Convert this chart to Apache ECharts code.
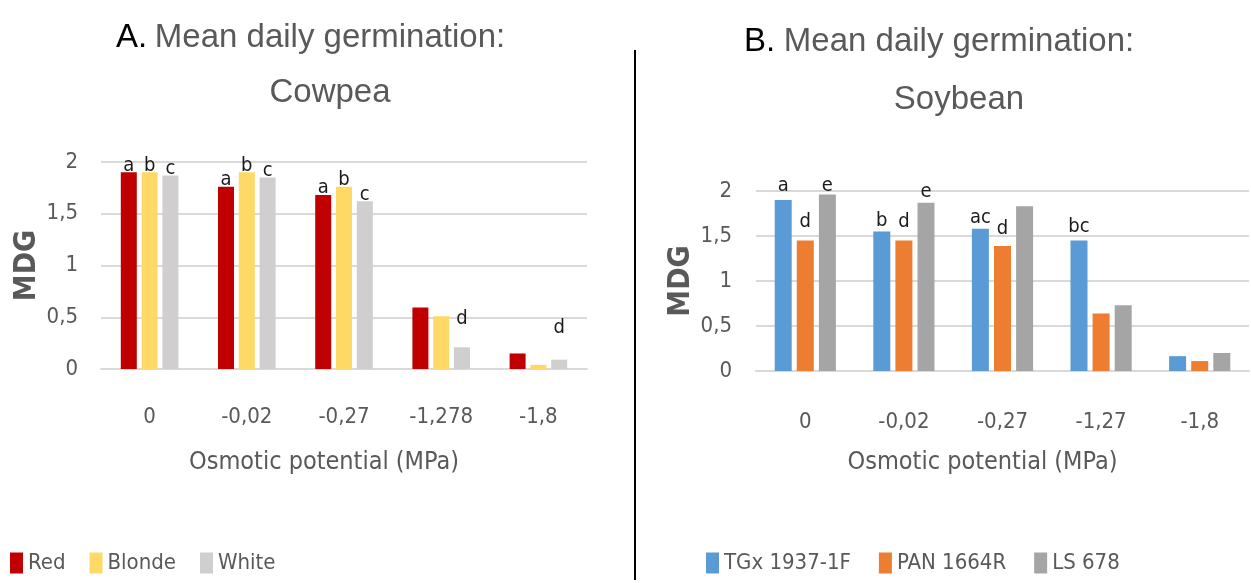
<!DOCTYPE html>
<html>
<head>
<meta charset="utf-8">
<script src="https://cdn.jsdelivr.net/npm/echarts@6/dist/echarts.min.js"></script>
<style>
  html, body { margin: 0; padding: 0; background: #fff; }
  #chart { width: 1251px; height: 583px; }
</style>
</head>
<body>
<div id="chart"></div>
<script>
// ---------- data ----------
const categoriesA = ['0', '-0,02', '-0,27', '-1,278', '-1,8'];
const categoriesB = ['0', '-0,02', '-0,27', '-1,27', '-1,8'];

const seriesNamesA = ['Red', 'Blonde', 'White'];
const redValues    = [1.90, 1.76, 1.68, 0.595, 0.15];
const blondeValues = [1.90, 1.90, 1.76, 0.51, 0.04];
const whiteValues  = [1.87, 1.85, 1.62, 0.21, 0.09];
const redLetters    = ['a', 'a', 'a', '', ''];
const blondeLetters = ['b', 'b', 'b', '', ''];
const whiteLetters  = ['c', 'c', 'c', 'd', 'd'];

const seriesNamesB = ['TGx 1937-1F', 'PAN 1664R', 'LS 678'];
const tgxValues = [1.90, 1.55, 1.58, 1.45, 0.165];
const panValues = [1.45, 1.45, 1.39, 0.64, 0.11];
const lsValues  = [1.96, 1.87, 1.83, 0.73, 0.20];
const tgxLetters = ['a', 'b', 'ac', 'bc', ''];
const panLetters = ['d', 'd', 'd', '', ''];
const lsLetters  = ['e', 'e', '', '', ''];

const yTicks = { min: 0, max: 2, step: 0.5 };

// ---------- styles ----------
const FONT = "'DejaVu Sans Condensed','Liberation Sans Narrow',sans-serif";
const TITLE_FONT = "'Liberation Sans Narrow','Liberation Sans',Arial,sans-serif";
const GRAY = '#595959';
const GRID_COLOR = '#d9d9d9';
const colorsA = ['#C00000', '#FFD966', '#D0CECE'];
const colorsB = ['#5B9BD5', '#ED7D31', '#A5A5A5'];
// extra lift (px) of the letter annotations above their bars
const liftA = [[0,0,0,0,0], [0,0,0,0,0], [0,0,0,21,25]];
const liftB = [[3,0,0,3,0], [8,8,6,0,0], [-2,0,0,0,0]];

function barSeries(name, values, letters, lifts, color, idx, dist, width) {
  return {
    name: name, type: 'bar', xAxisIndex: idx, yAxisIndex: idx,
    barWidth: width, barGap: '30%',
    itemStyle: { color: color },
    data: values.map((v, i) => ({ value: v, label: { offset: [0, -lifts[i]] } })),
    label: {
      show: true, position: 'top', distance: dist,
      formatter: p => letters[p.dataIndex],
      fontFamily: FONT, fontSize: 20, color: '#1a1a1a'
    },
    emphasis: { disabled: true }
  };
}

function xAxis(idx, cats, margin, nameGap) {
  return {
    type: 'category', gridIndex: idx, data: cats,
    axisLine: { lineStyle: { color: GRID_COLOR, width: 2 } },
    axisTick: { show: false },
    axisLabel: { interval: 0, margin: margin, fontFamily: FONT, fontSize: 22, color: GRAY },
    name: 'Osmotic potential (MPa)', nameLocation: 'middle', nameGap: nameGap,
    nameTextStyle: { fontFamily: FONT, fontSize: 25, color: GRAY, padding: [0, 40, 0, 0] }
  };
}
function yAxis(idx, margin) {
  return {
    type: 'value', gridIndex: idx, min: yTicks.min, max: yTicks.max, interval: yTicks.step,
    axisLine: { show: false }, axisTick: { show: false },
    splitLine: { lineStyle: { color: GRID_COLOR, width: 2 } },
    axisLabel: { margin: margin, fontFamily: FONT, fontSize: 22, color: GRAY,
      formatter: v => String(v).replace('.', ',') },
    name: 'MDG', nameLocation: 'middle', nameGap: 59, nameRotate: 90,
    nameTextStyle: { fontFamily: FONT, fontSize: 30, fontWeight: 'bold', color: GRAY }
  };
}
function legend(names, left, gap) {
  return {
    data: names, left: left, top: 547, orient: 'horizontal',
    icon: 'rect', itemWidth: 13, itemHeight: 21, itemGap: gap,
    textStyle: { fontFamily: FONT, fontSize: 22, color: GRAY },
    selectedMode: false
  };
}
function titleStyle(color, lh) {
  return { fontFamily: TITLE_FONT, fontSize: 33, fontWeight: 'normal', color: color, lineHeight: lh };
}

const option = {
  animation: false,
  backgroundColor: '#ffffff',
  title: [
    { text: 'Mean daily germination:\nCowpea', left: 325, top: 5, textAlign: 'center',
      textStyle: titleStyle(GRAY, 55) },
    { text: 'A.', left: 111, top: 5, textStyle: titleStyle('#000', 55) },
    { text: 'Mean daily germination:\nSoybean', left: 954, top: 8, textAlign: 'center',
      textStyle: titleStyle(GRAY, 58) },
    { text: 'B.', left: 739, top: 8, textStyle: titleStyle('#000', 58) }
  ],
  grid: [
    { left: 101, right: 664, top: 162, bottom: 214 },
    { left: 756, right: 2, top: 191, bottom: 212 }
  ],
  legend: [legend(seriesNamesA, 5, 24), legend(seriesNamesB, 701, 28)],
  xAxis: [xAxis(0, categoriesA, 37, 81), xAxis(1, categoriesB, 40, 79)],
  yAxis: [yAxis(0, 23), yAxis(1, 24)],
  series: [
    barSeries(seriesNamesA[0], redValues, redLetters, liftA[0], colorsA[0], 0, -3, 16),
    barSeries(seriesNamesA[1], blondeValues, blondeLetters, liftA[1], colorsA[1], 0, -3, 16),
    barSeries(seriesNamesA[2], whiteValues, whiteLetters, liftA[2], colorsA[2], 0, -3, 16),
    barSeries(seriesNamesB[0], tgxValues, tgxLetters, liftB[0], colorsB[0], 1, 1, 17),
    barSeries(seriesNamesB[1], panValues, panLetters, liftB[1], colorsB[1], 1, 1, 17),
    barSeries(seriesNamesB[2], lsValues, lsLetters, liftB[2], colorsB[2], 1, 1, 17)
  ],
  graphic: [
    { type: 'line', shape: { x1: 635, y1: 50, x2: 635, y2: 580 },
      style: { stroke: '#000', lineWidth: 2 }, silent: true }
  ]
};

const chart = echarts.init(document.getElementById('chart'), null, { renderer: 'canvas' });
chart.setOption(option);
</script>
</body>
</html>
